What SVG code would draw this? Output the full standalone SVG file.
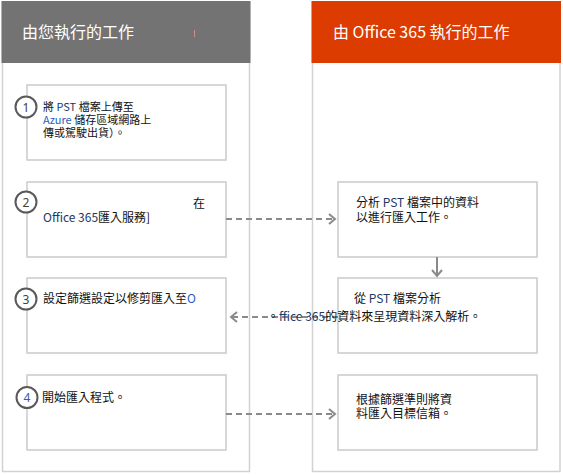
<svg xmlns="http://www.w3.org/2000/svg" width="563" height="475" viewBox="0 0 563 475">
<style>
.panel{fill:#fff;stroke:#d2d2d2;stroke-width:1.5}
.box{fill:#fff;stroke:#cacaca;stroke-width:1.5}
.hdr{font-family:"Noto Sans CJK TC","Noto Sans",sans-serif;font-size:16px;fill:#fff}
.t{font-family:"Noto Sans CJK TC","Noto Sans",sans-serif;font-size:12px;fill:#111}
.s{font-size:11px}
.num{font-family:"Noto Sans","Liberation Sans",sans-serif;font-size:12px;fill:#404040;text-anchor:middle}
.circ{fill:#fff;stroke:#595959;stroke-width:2}
.nv{fill:#203864}
.bl{fill:#1f5fbf}
.dash{fill:none;stroke:#8a8a8a;stroke-width:2;stroke-dasharray:6 4}
.solid{fill:none;stroke:#8a8a8a;stroke-width:2}
</style>
<defs>
<marker id="chev" markerUnits="userSpaceOnUse" markerWidth="12" markerHeight="14" refX="7" refY="6" orient="auto" viewBox="0 0 12 14">
<path d="M1,1 L7,6 L1,11" fill="none" stroke="#8a8a8a" stroke-width="2"/>
</marker>
</defs>

<g id="panel-you">
<rect class="panel" x="2.5" y="2.5" width="247" height="469"/>
<rect x="1.5" y="1" width="249" height="62" fill="#737373"/>
<text class="hdr" x="22" y="38">由您執行的工作</text>
<line x1="194.5" y1="30" x2="194.5" y2="37" stroke="#c89090" stroke-width="1"/>
</g>
<g id="panel-office">
<rect class="panel" x="312.5" y="2.5" width="247.5" height="469"/>
<rect x="311.5" y="1" width="249.5" height="62" fill="#dc3c00"/>
<text class="hdr" x="333" y="38">由 Office 365 執行的工作</text>
</g>

<g id="step1">
<rect class="box" x="27" y="85" width="199" height="75"/>
<circle class="circ" cx="26" cy="107" r="10.5"/>
<text class="num" x="26" y="111.5">1</text>
<text class="t s" x="43" y="111">將 <tspan class="nv">PST</tspan> 檔案上傳至</text>
<text class="t s" x="43" y="124"><tspan class="bl">Azure</tspan> 儲存區域網路上</text>
<text class="t s" x="43" y="137">傳或駕駛出貨）。</text>
</g>
<g id="step2">
<rect class="box" x="27" y="182" width="199" height="75"/>
<circle class="circ" cx="26" cy="202" r="10.5"/>
<text class="num" x="26" y="206.5">2</text>
<text class="t" x="193" y="208">在</text>
<text class="t" x="43" y="222"><tspan class="nv">Office 365</tspan>匯入服務]</text>
</g>
<g id="step3">
<rect class="box" x="27" y="278" width="199" height="75"/>
<circle class="circ" cx="26" cy="299" r="10.5"/>
<text class="num" x="26" y="303.5">3</text>
<text class="t" x="43" y="303">設定篩選設定以修剪匯入至<tspan class="bl">O</tspan></text>
</g>
<g id="step4">
<rect class="box" x="27" y="375" width="199" height="75"/>
<circle class="circ" cx="27" cy="397.5" r="10.5"/>
<text class="num" x="27" y="402" style="fill:#3b5ea8">4</text>
<text class="t" x="42" y="402">開始匯入程式。</text>
</g>

<g id="analyze">
<rect class="box" x="338" y="182" width="199" height="75"/>
<text class="t" x="356" y="207">分析 <tspan class="nv">PST</tspan> 檔案中的資料</text>
<text class="t" x="356" y="222">以進行匯入工作。</text>
</g>
<g id="insights">
<rect class="box" x="338" y="278" width="199" height="75"/>
<text class="t" x="354" y="303">從 <tspan class="nv">PST</tspan> 檔案分析</text>
</g>
<g id="import">
<rect class="box" x="338" y="375" width="199" height="75"/>
<text class="t" x="356" y="404">根據篩選準則將資</text>
<text class="t" x="356" y="418">料匯入目標信箱。</text>
</g>

<g id="connectors">
<path class="dash" d="M226,219 H335" marker-end="url(#chev)"/>
<path class="solid" d="M437,257 V276" marker-end="url(#chev)"/>
<path class="dash" d="M338,317 H231" marker-end="url(#chev)"/>
<path class="dash" d="M226,414 H335" marker-end="url(#chev)"/>
</g>
<g id="insights-text">
<text class="t" x="267" y="321">。<tspan class="nv">ffice 365</tspan>的資料來呈現資料深入解析。</text>
</g>
</svg>
